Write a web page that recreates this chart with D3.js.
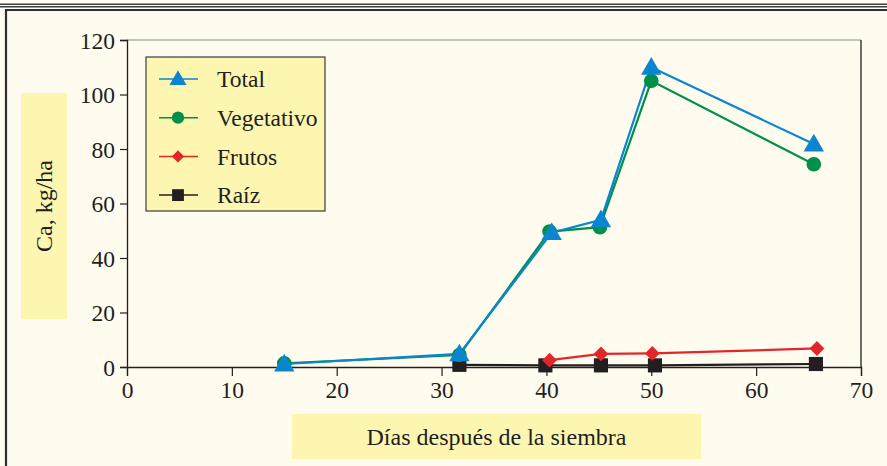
<!DOCTYPE html>
<html>
<head>
<meta charset="utf-8">
<script src="https://cdn.jsdelivr.net/npm/d3@7"></script>
<style>
  html, body { margin: 0; padding: 0; background: #fffcef; }
  svg { display: block; }
  text { font-family: "Liberation Serif", "DejaVu Serif", serif; fill: #231f20; }
</style>
</head>
<body>
<svg id="chart" width="887" height="466"></svg>
<script>
// ---- data ----
const seriesNames = ["Total", "Vegetativo", "Frutos", "Raíz"];
const totalX = [15, 31.7, 40.5, 45.2, 50, 65.5];
const totalY = [1.1, 4.8, 49.3, 54, 110, 81.8];
const vegX = [15, 31.7, 40.3, 45.1, 50, 65.5];
const vegY = [1.3, 4.4, 49.7, 51.3, 105, 74.4];
const frutosX = [40.3, 45.2, 50.1, 65.8];
const frutosY = [2.5, 4.8, 5.0, 6.8];
const raizX = [31.7, 39.9, 45.2, 50.35, 65.7];
const raizY = [0.8, 0.6, 0.6, 0.6, 1.1];
const xTicks = [0, 10, 20, 30, 40, 50, 60, 70];
const yTicks = [0, 20, 40, 60, 80, 100, 120];
const xLabel = "Días después de la siembra";
const yLabel = "Ca, kg/ha";

const colors = { "Total": "#0a85d0", "Vegetativo": "#00904a", "Frutos": "#e2272a", "Raíz": "#231f20" };
const symbols = { "Total": d3.symbolTriangle, "Vegetativo": d3.symbolCircle, "Frutos": d3.symbolSquare, "Raíz": d3.symbolSquare };
const symRot = { "Total": 0, "Vegetativo": 0, "Frutos": 45, "Raíz": 0 };
const symSize = { "Total": 180, "Vegetativo": 170, "Frutos": 110, "Raíz": 200 };

const series = [
  { name: "Total", xs: totalX, ys: totalY },
  { name: "Vegetativo", xs: vegX, ys: vegY },
  { name: "Frutos", xs: frutosX, ys: frutosY },
  { name: "Raíz", xs: raizX, ys: raizY }
];

const svg = d3.select("#chart");

// ---- page frame ----
svg.append("rect").attr("x", 0).attr("y", 0).attr("width", 887).attr("height", 466).attr("fill", "#fffcef");
svg.append("rect").attr("x", 0).attr("y", 3).attr("width", 887).attr("height", 6).attr("fill", "#ffffff");
svg.append("line").attr("x1", 0).attr("x2", 887).attr("y1", 4.2).attr("y2", 4.2).attr("stroke", "#3a3a3a").attr("stroke-width", 1.5);
svg.append("line").attr("x1", 0).attr("x2", 887).attr("y1", 6.8).attr("y2", 6.8).attr("stroke", "#3a3a3a").attr("stroke-width", 1.5);
svg.append("line").attr("x1", 5).attr("x2", 887).attr("y1", 10).attr("y2", 10).attr("stroke", "#2e2e2e").attr("stroke-width", 2.2);
svg.append("line").attr("x1", 6).attr("x2", 6).attr("y1", 9).attr("y2", 466).attr("stroke", "#2e2e2e").attr("stroke-width", 2.2);

// ---- scales ----
const x = d3.scaleLinear().domain([0, 70]).range([127, 861]);
const y = d3.scaleLinear().domain([0, 120]).range([367, 40]);

// label boxes
svg.append("rect").attr("x", 21).attr("y", 93).attr("width", 46).attr("height", 226).attr("fill", "#fdf6b0");
svg.append("text").attr("transform", "translate(52,206) rotate(-90)")
  .attr("text-anchor", "middle").attr("font-size", 24).text(yLabel);
svg.append("rect").attr("x", 292).attr("y", 414).attr("width", 409).attr("height", 45).attr("fill", "#fdf6b0");
svg.append("text").attr("x", 496.5).attr("y", 445).attr("text-anchor", "middle").attr("font-size", 24).text(xLabel);

// plot box borders
svg.append("line").attr("x1", x(0)).attr("x2", x(70)).attr("y1", y(120)).attr("y2", y(120)).attr("stroke", "#8a8a8a").attr("stroke-width", 1.2);
svg.append("line").attr("x1", x(70)).attr("x2", x(70)).attr("y1", y(120)).attr("y2", y(0)).attr("stroke", "#231f20").attr("stroke-width", 1.3);

// axes
const xAxis = d3.axisBottom(x).tickValues(xTicks).tickSize(9).tickPadding(4).tickFormat(d3.format("d"));
const gx = svg.append("g").attr("transform", `translate(0,${y(0)})`).call(xAxis);
const yAxis = d3.axisLeft(y).tickValues(yTicks).tickSize(7).tickPadding(5).tickFormat(d3.format("d"));
const gy = svg.append("g").attr("transform", `translate(${x(0)},0)`).call(yAxis);
[gx, gy].forEach(g => {
  g.select(".domain").attr("stroke", "#231f20").attr("stroke-width", 1.3);
  g.selectAll(".tick line").attr("stroke", "#231f20").attr("stroke-width", 1.2);
  g.selectAll(".tick text").attr("font-size", 23.5).attr("fill", "#231f20")
    .style("font-family", "Liberation Serif, serif");
});
gx.selectAll(".tick text").attr("dy", "0.75em");
gy.selectAll(".tick text").attr("dy", "0.35em");

// ---- series ----
const line = d3.line().x(d => x(d[0])).y(d => y(d[1]));
const order = ["Raíz", "Frutos", "Vegetativo", "Total"];
order.forEach(name => {
  const s = series.find(q => q.name === name);
  const pts = s.xs.map((v, i) => [v, s.ys[i]]);
  svg.append("path").datum(pts).attr("d", line).attr("fill", "none")
    .attr("stroke", colors[name]).attr("stroke-width", 2.2);
});
order.forEach(name => {
  const s = series.find(q => q.name === name);
  const pts = s.xs.map((v, i) => [v, s.ys[i]]);
  svg.append("g").selectAll("path").data(pts).join("path")
    .attr("transform", d => `translate(${x(d[0])},${y(d[1]) + (name === "Total" ? 1.5 : 0)}) rotate(${symRot[name]})`)
    .attr("d", d3.symbol().type(symbols[name]).size(symSize[name]))
    .attr("fill", colors[name]);
});

// ---- legend ----
const leg = svg.append("g").attr("transform", "translate(146,57)");
leg.append("rect").attr("x", 0).attr("y", 0).attr("width", 179).attr("height", 154)
  .attr("fill", "#fdf6b0").attr("stroke", "#3a3a3a").attr("stroke-width", 1.2);
seriesNames.forEach((name, i) => {
  const cy = 22 + i * 38.7;
  leg.append("line").attr("x1", 13).attr("x2", 52).attr("y1", cy).attr("y2", cy)
    .attr("stroke", colors[name]).attr("stroke-width", 1.5);
  leg.append("path").attr("transform", `translate(32,${cy + (name === "Total" ? 1 : 0)}) rotate(${symRot[name]})`)
    .attr("d", d3.symbol().type(symbols[name]).size(symSize[name] * 0.7))
    .attr("fill", colors[name]);
  leg.append("text").attr("x", 71).attr("y", cy).attr("dy", "0.35em")
    .attr("font-size", 23.5).text(name);
});
</script>
</body>
</html>
